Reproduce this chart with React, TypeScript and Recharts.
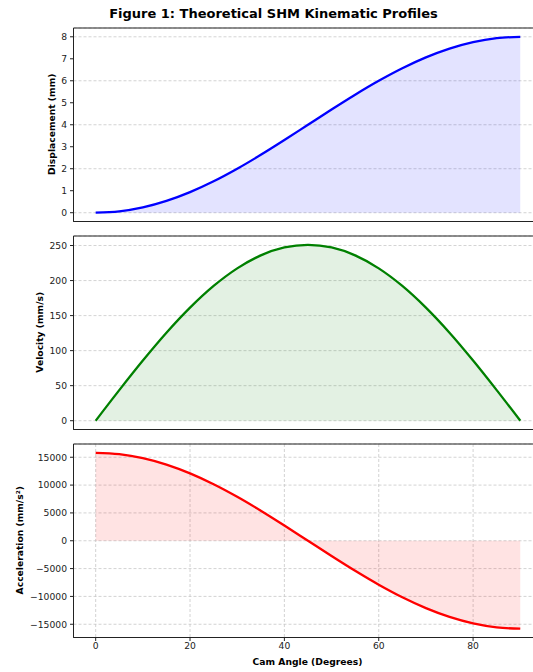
import {
  Area,
  CartesianGrid,
  ComposedChart,
  ReferenceArea,
  XAxis,
  YAxis,
} from "recharts";

const angles = [0, 5, 10, 15, 20, 25, 30, 35, 40, 45, 50, 55, 60, 65, 70, 75, 80, 85, 90];
const displacement = [
  0, 0.061, 0.241, 0.536, 0.936, 1.429, 2.0, 2.632, 3.305, 4.0, 4.695, 5.368, 6.0, 6.571,
  7.064, 7.464, 7.759, 7.939, 8.0,
];
const velocity = [
  0, 43.6, 85.8, 125.5, 161.3, 192.3, 217.4, 235.9, 247.2, 251.0, 247.2, 235.9, 217.4, 192.3,
  161.3, 125.5, 85.8, 43.6, 0,
];
const acceleration = [
  15800, 15560, 14847, 13683, 12104, 10156, 7900, 5404, 2744, 0, -2744, -5404, -7900, -10156,
  -12104, -13683, -14847, -15560, -15800,
];

const xTicks = [0, 20, 40, 60, 80];
const dispTicks = [0, 1, 2, 3, 4, 5, 6, 7, 8];
const velTicks = [0, 50, 100, 150, 200, 250];
const accTicks = [-15000, -10000, -5000, 0, 5000, 10000, 15000];

const rows = angles.map((a, i) => ({
  angle: a,
  disp: displacement[i],
  vel: velocity[i],
  acc: acceleration[i],
}));

const FONT = "DejaVu Sans, Verdana, sans-serif";
const INK = "#222";
const X_DOMAIN: [number, number] = [-4.7, 94.5];
const PLOT_H = 193.5;
const MARGIN_TOP = 10;
const TICK_FS = 9.2;
const LABEL_FS = 9.2;

const fmt = (v: number) => String(v).replace("-", "\u2212");

type PanelProps = {
  top: number;
  dataKey: string;
  color: string;
  domain: [number, number];
  ticks: number[];
  showX: boolean;
};

function Panel({ top, dataKey, color, domain, ticks, showX }: PanelProps) {
  const axisH = 30;
  return (
    <div style={{ position: "absolute", left: 0, top: top - MARGIN_TOP }}>
      <ComposedChart
        width={542}
        height={MARGIN_TOP + PLOT_H + axisH}
        data={rows}
        margin={{ top: MARGIN_TOP, right: 0.5, left: 0.5, bottom: 0 }}
      >
        <CartesianGrid stroke="#c8c8c8" strokeDasharray="3 2" strokeWidth={0.8} />
        <XAxis
          dataKey="angle"
          type="number"
          domain={X_DOMAIN}
          ticks={xTicks}
          allowDataOverflow
          height={axisH}
          tickSize={3.5}
          tickMargin={1.5}
          stroke={INK}
          tick={showX ? { fill: INK, fontSize: TICK_FS, fontFamily: FONT } : false}
          tickFormatter={fmt}
        />
        <YAxis
          type="number"
          domain={domain}
          ticks={ticks}
          allowDataOverflow
          width={73}
          tickSize={3.5}
          tickMargin={3}
          stroke={INK}
          tick={{ fill: INK, fontSize: TICK_FS, fontFamily: FONT }}
          tickFormatter={fmt}
        />
        <ReferenceArea
          x1={X_DOMAIN[0]}
          x2={X_DOMAIN[1]}
          y1={domain[0]}
          y2={domain[1]}
          fill="none"
          fillOpacity={0}
          stroke={INK}
          strokeWidth={1}
        />
        <Area
          dataKey={dataKey}
          type="monotone"
          baseValue={0}
          stroke={color}
          strokeWidth={2.3}
          fill={color}
          fillOpacity={0.11}
          dot={false}
          activeDot={false}
          isAnimationActive={false}
        />
      </ComposedChart>
    </div>
  );
}

const panelTops = [27.5, 235.5, 443.5];

export default function App() {
  const yLabel = (text: string, x: number, top: number) => (
    <text
      x={x}
      y={top + PLOT_H / 2}
      transform={`rotate(-90 ${x} ${top + PLOT_H / 2})`}
      textAnchor="middle"
      dominantBaseline="central"
      fontSize={LABEL_FS}
      fontWeight="bold"
      fontFamily={FONT}
      fill="#000"
    >
      {text}
    </text>
  );
  return (
    <div
      style={{
        position: "absolute",
        left: 0,
        top: 0,
        width: 533,
        height: 672,
        overflow: "hidden",
        background: "#fff",
      }}
    >
      <Panel top={panelTops[0]} dataKey="disp" color="#0000ff" domain={[-0.4, 8.4]} ticks={dispTicks} showX={false} />
      <Panel top={panelTops[1]} dataKey="vel" color="#008000" domain={[-12.55, 263.6]} ticks={velTicks} showX={false} />
      <Panel top={panelTops[2]} dataKey="acc" color="#ff0000" domain={[-17380, 17380]} ticks={accTicks} showX={true} />
      <svg
        width={533}
        height={672}
        style={{ position: "absolute", left: 0, top: 0, pointerEvents: "none" }}
      >
        <text
          x={273.5}
          y={13.5}
          textAnchor="middle"
          dominantBaseline="central"
          fontSize={13}
          fontWeight="bold"
          fontFamily={FONT}
          fill="#000"
        >
          Figure 1: Theoretical SHM Kinematic Profiles
        </text>
        {yLabel("Displacement (mm)", 51, panelTops[0])}
        {yLabel("Velocity (mm/s)", 39, panelTops[1])}
        {yLabel("Acceleration (mm/s²)", 19, panelTops[2])}
        <text
          x={307.5}
          y={661.5}
          textAnchor="middle"
          dominantBaseline="central"
          fontSize={LABEL_FS}
          fontWeight="bold"
          fontFamily={FONT}
          fill="#000"
        >
          Cam Angle (Degrees)
        </text>
      </svg>
    </div>
  );
}
